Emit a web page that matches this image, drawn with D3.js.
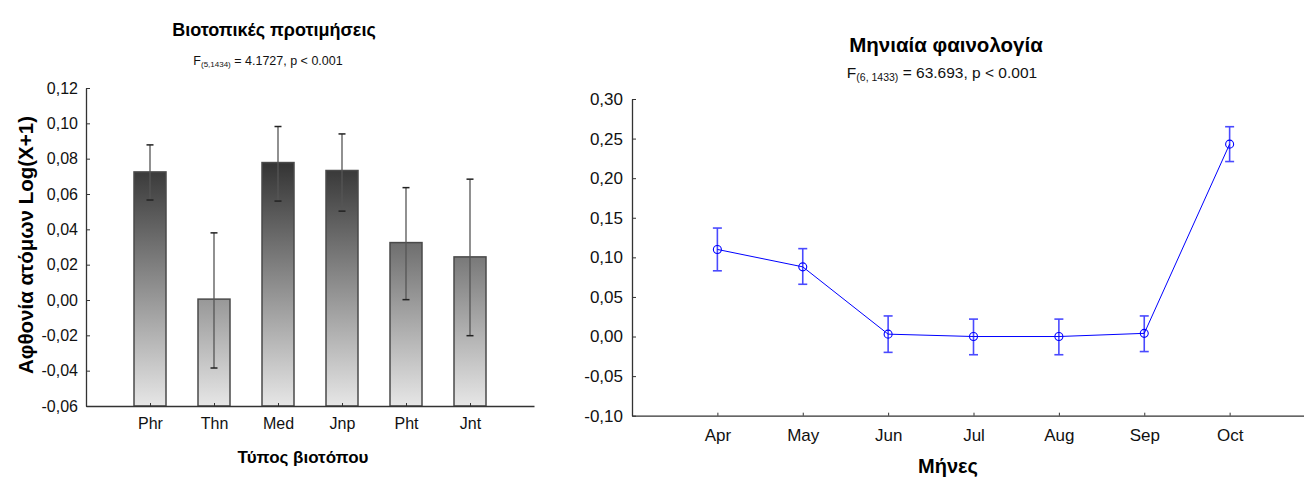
<!DOCTYPE html>
<html>
<head>
<meta charset="utf-8">
<script src="https://cdn.jsdelivr.net/npm/d3@7"></script>
<style>
  html, body { margin: 0; padding: 0; background: #fff; }
  svg { display: block; font-family: "Liberation Sans", Arial, sans-serif; }
  .axis path, .axis line { stroke: #333; }
</style>
</head>
<body>
<svg id="chart" width="1304" height="477"></svg>
<script>
// Habitat preferences: mean abundance log(X+1) with error bars
const habitats = ["Phr", "Thn", "Med", "Jnp", "Pht", "Jnt"];
const habitatMean = [0.0725, 0.0005, 0.0778, 0.0733, 0.0325, 0.0244];
const habitatLow  = [0.0566, -0.0385, 0.0560, 0.0503, 0.0002, -0.0202];
const habitatHigh = [0.0878, 0.0380, 0.0982, 0.0940, 0.0636, 0.0684];
const habitatTicks = [-0.06, -0.04, -0.02, 0.00, 0.02, 0.04, 0.06, 0.08, 0.10, 0.12];

// Monthly phenology: mean abundance with error bars
const months = ["Apr", "May", "Jun", "Jul", "Aug", "Sep", "Oct"];
const monthMean = [0.110, 0.088, 0.003, 0.000, 0.000, 0.004, 0.243];
const monthLow  = [0.083, 0.066, -0.020, -0.023, -0.023, -0.019, 0.221];
const monthHigh = [0.137, 0.111, 0.026, 0.022, 0.022, 0.026, 0.265];
const monthTicks = [-0.10, -0.05, 0.00, 0.05, 0.10, 0.15, 0.20, 0.25, 0.30];

// decimal comma and plain hyphen minus
const locale = d3.formatLocale({ decimal: ",", thousands: ".", grouping: [3], currency: ["", ""], minus: "-" });
const commaFmt = locale.format(".2f");
const svg = d3.select("#chart");

// ---------- left panel: bar chart ----------
{
  const x = d3.scaleLinear().domain([0, habitats.length + 1]).range([86, 534]);
  const y = d3.scaleLinear().domain([-0.06, 0.12]).range([406, 88]);
  const g = svg.append("g");

  const grad = svg.append("defs").append("linearGradient")
    .attr("id", "barFill").attr("gradientUnits", "userSpaceOnUse")
    .attr("x1", 0).attr("x2", 0).attr("y1", y(0.10)).attr("y2", y(-0.06));
  grad.append("stop").attr("offset", 0).attr("stop-color", "#171717");
  grad.append("stop").attr("offset", 1).attr("stop-color", "#e6e6e6");

  const bw = 32;
  g.selectAll("rect.bar").data(habitatMean).join("rect")
    .attr("class", "bar")
    .attr("x", (d, i) => x(i + 1) - bw / 2)
    .attr("width", bw)
    .attr("y", d => y(d))
    .attr("height", d => y(-0.06) - y(d))
    .attr("fill", "url(#barFill)")
    .attr("stroke", "#4a4a4a").attr("stroke-width", 1.5);

  // error bars
  const eb = g.selectAll("g.err").data(habitatMean).join("g").attr("class", "err");
  eb.append("line")
    .attr("x1", (d, i) => x(i + 1)).attr("x2", (d, i) => x(i + 1))
    .attr("y1", (d, i) => y(habitatLow[i])).attr("y2", (d, i) => y(habitatHigh[i]))
    .attr("stroke", "#555").attr("stroke-width", 1.3);
  [habitatLow, habitatHigh].forEach(arr => {
    eb.append("line")
      .attr("x1", (d, i) => x(i + 1) - 3.5).attr("x2", (d, i) => x(i + 1) + 3.5)
      .attr("y1", (d, i) => y(arr[i])).attr("y2", (d, i) => y(arr[i]))
      .attr("stroke", "#222").attr("stroke-width", 1.5);
  });

  const yAxis = d3.axisLeft(y).tickValues(habitatTicks).tickFormat(commaFmt)
    .tickSizeInner(-4).tickSizeOuter(0).tickPadding(8);
  g.append("g").attr("class", "axis").attr("transform", `translate(${x(0)},0)`).call(yAxis)
    .call(s => s.selectAll("text").attr("font-size", 16).attr("fill", "#111"))
    .call(s => s.select(".domain").attr("stroke-width", 1.3));

  const xAxis = d3.axisBottom(x).tickValues(d3.range(1, habitats.length + 1))
    .tickFormat(i => habitats[i - 1]).tickSizeInner(-3).tickSizeOuter(0).tickPadding(11.5);
  g.append("g").attr("class", "axis").attr("transform", `translate(0,${y(-0.06)})`).call(xAxis)
    .call(s => s.selectAll("text").attr("font-size", 16).attr("fill", "#111"))
    .call(s => s.select(".domain").attr("stroke-width", 1.3));

  g.append("text").attr("x", 274).attr("y", 36).attr("text-anchor", "middle")
    .attr("font-size", 18).attr("font-weight", "bold").text("Βιοτοπικές προτιμήσεις");

  const sub = g.append("text").attr("x", 268).attr("y", 65).attr("text-anchor", "middle")
    .attr("font-size", 12.5).attr("fill", "#111");
  sub.append("tspan").text("F");
  sub.append("tspan").attr("font-size", 8).attr("dy", 2).text("(5,1434)");
  sub.append("tspan").attr("dy", -2).text(" = 4.1727, p < 0.001");

  g.append("text").attr("transform", `translate(33,245) rotate(-90)`)
    .attr("text-anchor", "middle").attr("font-size", 20.5).attr("font-weight", "bold")
    .text("Αφθονία ατόμων Log(X+1)");

  g.append("text").attr("x", 303).attr("y", 463).attr("text-anchor", "middle")
    .attr("font-size", 17).attr("font-weight", "bold").text("Τύπος βιοτόπου");
}

// ---------- right panel: line chart ----------
{
  const x = d3.scaleLinear().domain([0, months.length + 1]).range([632, 1315]);
  const y = d3.scaleLinear().domain([-0.10, 0.30]).range([415.7, 99]);
  const g = svg.append("g");
  const blue = "#0000ff";

  const yAxis = d3.axisLeft(y).tickValues(monthTicks).tickFormat(commaFmt)
    .tickSizeInner(-4).tickSizeOuter(0).tickPadding(9);
  g.append("g").attr("class", "axis").attr("transform", `translate(${x(0)},0)`).call(yAxis)
    .call(s => s.selectAll("text").attr("font-size", 17).attr("fill", "#111"))
    .call(s => s.select(".domain").attr("stroke-width", 1.3));

  const xAxis = d3.axisBottom(x).tickValues(d3.range(1, months.length + 1))
    .tickFormat(i => months[i - 1]).tickSizeInner(-3).tickSizeOuter(0).tickPadding(13);
  g.append("g").attr("class", "axis").attr("transform", `translate(0,${y(-0.10)})`).call(xAxis)
    .call(s => s.selectAll("text").attr("font-size", 17).attr("fill", "#111"))
    .call(s => s.select(".domain").attr("stroke-width", 1.3));

  // error bars
  const eb = g.selectAll("g.err").data(monthMean).join("g").attr("class", "err");
  eb.append("line")
    .attr("x1", (d, i) => x(i + 1)).attr("x2", (d, i) => x(i + 1))
    .attr("y1", (d, i) => y(monthLow[i])).attr("y2", (d, i) => y(monthHigh[i]))
    .attr("stroke", "#4a4aff").attr("stroke-width", 1.6);
  [monthLow, monthHigh].forEach(arr => {
    eb.append("line")
      .attr("x1", (d, i) => x(i + 1) - 4.5).attr("x2", (d, i) => x(i + 1) + 4.5)
      .attr("y1", (d, i) => y(arr[i])).attr("y2", (d, i) => y(arr[i]))
      .attr("stroke", "#4a4aff").attr("stroke-width", 1.6);
  });

  const line = d3.line().x((d, i) => x(i + 1)).y(d => y(d));
  g.append("path").datum(monthMean).attr("d", line)
    .attr("fill", "none").attr("stroke", blue).attr("stroke-width", 1);

  g.selectAll("circle").data(monthMean).join("circle")
    .attr("cx", (d, i) => x(i + 1)).attr("cy", d => y(d)).attr("r", 4)
    .attr("fill", "none").attr("stroke", blue).attr("stroke-width", 1.1);

  g.append("text").attr("x", 946).attr("y", 52).attr("text-anchor", "middle")
    .attr("font-size", 20.5).attr("font-weight", "bold").text("Μηνιαία φαινολογία");

  const sub = g.append("text").attr("x", 942).attr("y", 78).attr("text-anchor", "middle")
    .attr("font-size", 15.5).attr("fill", "#111");
  sub.append("tspan").text("F");
  sub.append("tspan").attr("font-size", 10.5).attr("dy", 3).text("(6, 1433)");
  sub.append("tspan").attr("dy", -3).text(" = 63.693, p < 0.001");

  g.append("text").attr("x", 948).attr("y", 473).attr("text-anchor", "middle")
    .attr("font-size", 20).attr("font-weight", "bold").text("Μήνες");
}
</script>
</body>
</html>
